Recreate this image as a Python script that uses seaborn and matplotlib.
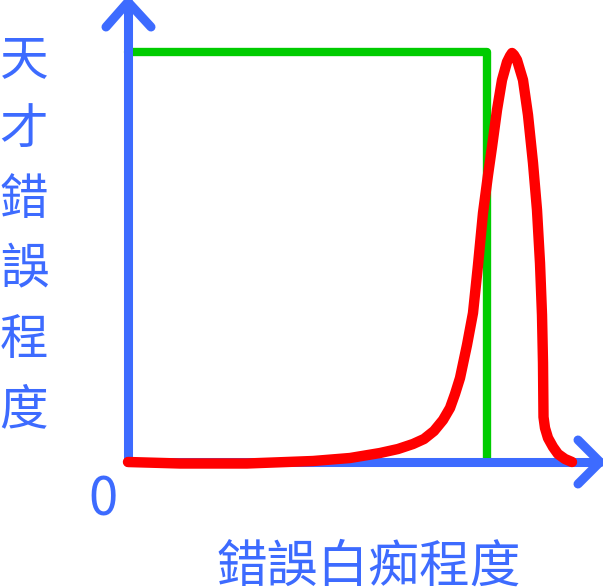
import matplotlib
matplotlib.use("Agg")
import matplotlib.pyplot as plt
import seaborn as sns
import pandas as pd

# ---- data (units: origin at the axes corner) ----
red_x = [0, 52, 119, 185, 222, 252, 270, 285, 296, 306, 315, 322, 327, 332, 339, 345, 350, 355,
         360, 364, 369, 374, 379, 382, 384, 386, 389, 395, 400, 405, 409, 412, 414, 415,
         415.5, 417, 420, 425, 430, 437, 444]
red_y = [0, -1.5, -1.5, 1, 4, 9, 13, 18, 23, 31, 42, 54, 68, 84, 117, 149, 197, 249,
         287, 315, 352, 382, 400, 406, 409, 407, 402, 382, 347, 299, 252, 199, 147, 99,
         45, 34, 24, 15, 8, 3, 0]
green_x = [0, 359, 359]
green_y = [410, 410, 0]
yaxis_x = [0, 0]
yaxis_y = [0, 460]
ychev_x = [-22, 0, 23]
ychev_y = [435, 460, 435]
xaxis_x = [0, 472]
xaxis_y = [0, 0]
xchev_x = [450, 472, 450]
xchev_y = [22, 0, -22]

y_label = "天才錯誤程度"
x_label = "錯誤白痴程度"
origin_label = "0"

sns.set_theme(style="white")
plt.rcParams['font.family'] = ['Noto Sans CJK TC', 'DejaVu Sans']

BLUE = "#3d6bff"
GREEN = "#00cc00"
RED = "#ff0000"

fig = plt.figure(figsize=(6.03, 5.88), dpi=100)
ax = fig.add_axes([0, 0, 1, 1])
ax.set_xlim(-128, 475)
ax.set_ylim(-126, 462)
ax.axis("off")

def draw(xs, ys, color, lw):
    df = pd.DataFrame({"x": xs, "y": ys})
    sns.lineplot(data=df, x="x", y="y", sort=False, color=color, linewidth=lw,
                 ax=ax, solid_capstyle="round", solid_joinstyle="round",
                 estimator=None)

draw(green_x, green_y, GREEN, 6.0)
draw(yaxis_x, yaxis_y, BLUE, 6.5)
draw(ychev_x, ychev_y, BLUE, 6.5)
draw(xaxis_x, xaxis_y, BLUE, 6.5)
draw(xchev_x, xchev_y, BLUE, 6.5)
draw(red_x, red_y, RED, 7.5)

for i, ch in enumerate(y_label):
    ax.text(-104, 402 - 70 * i, ch, color=BLUE, fontsize=35, fontweight="light",
            ha="center", va="center")

ax.text(-25, -38, origin_label, color=BLUE, fontsize=38, fontweight="light",
        ha="center", va="center")
ax.text(241, -106, x_label, color=BLUE, fontsize=36.5, fontweight="light",
        ha="center", va="center")

fig.savefig("out.png", dpi=100)
